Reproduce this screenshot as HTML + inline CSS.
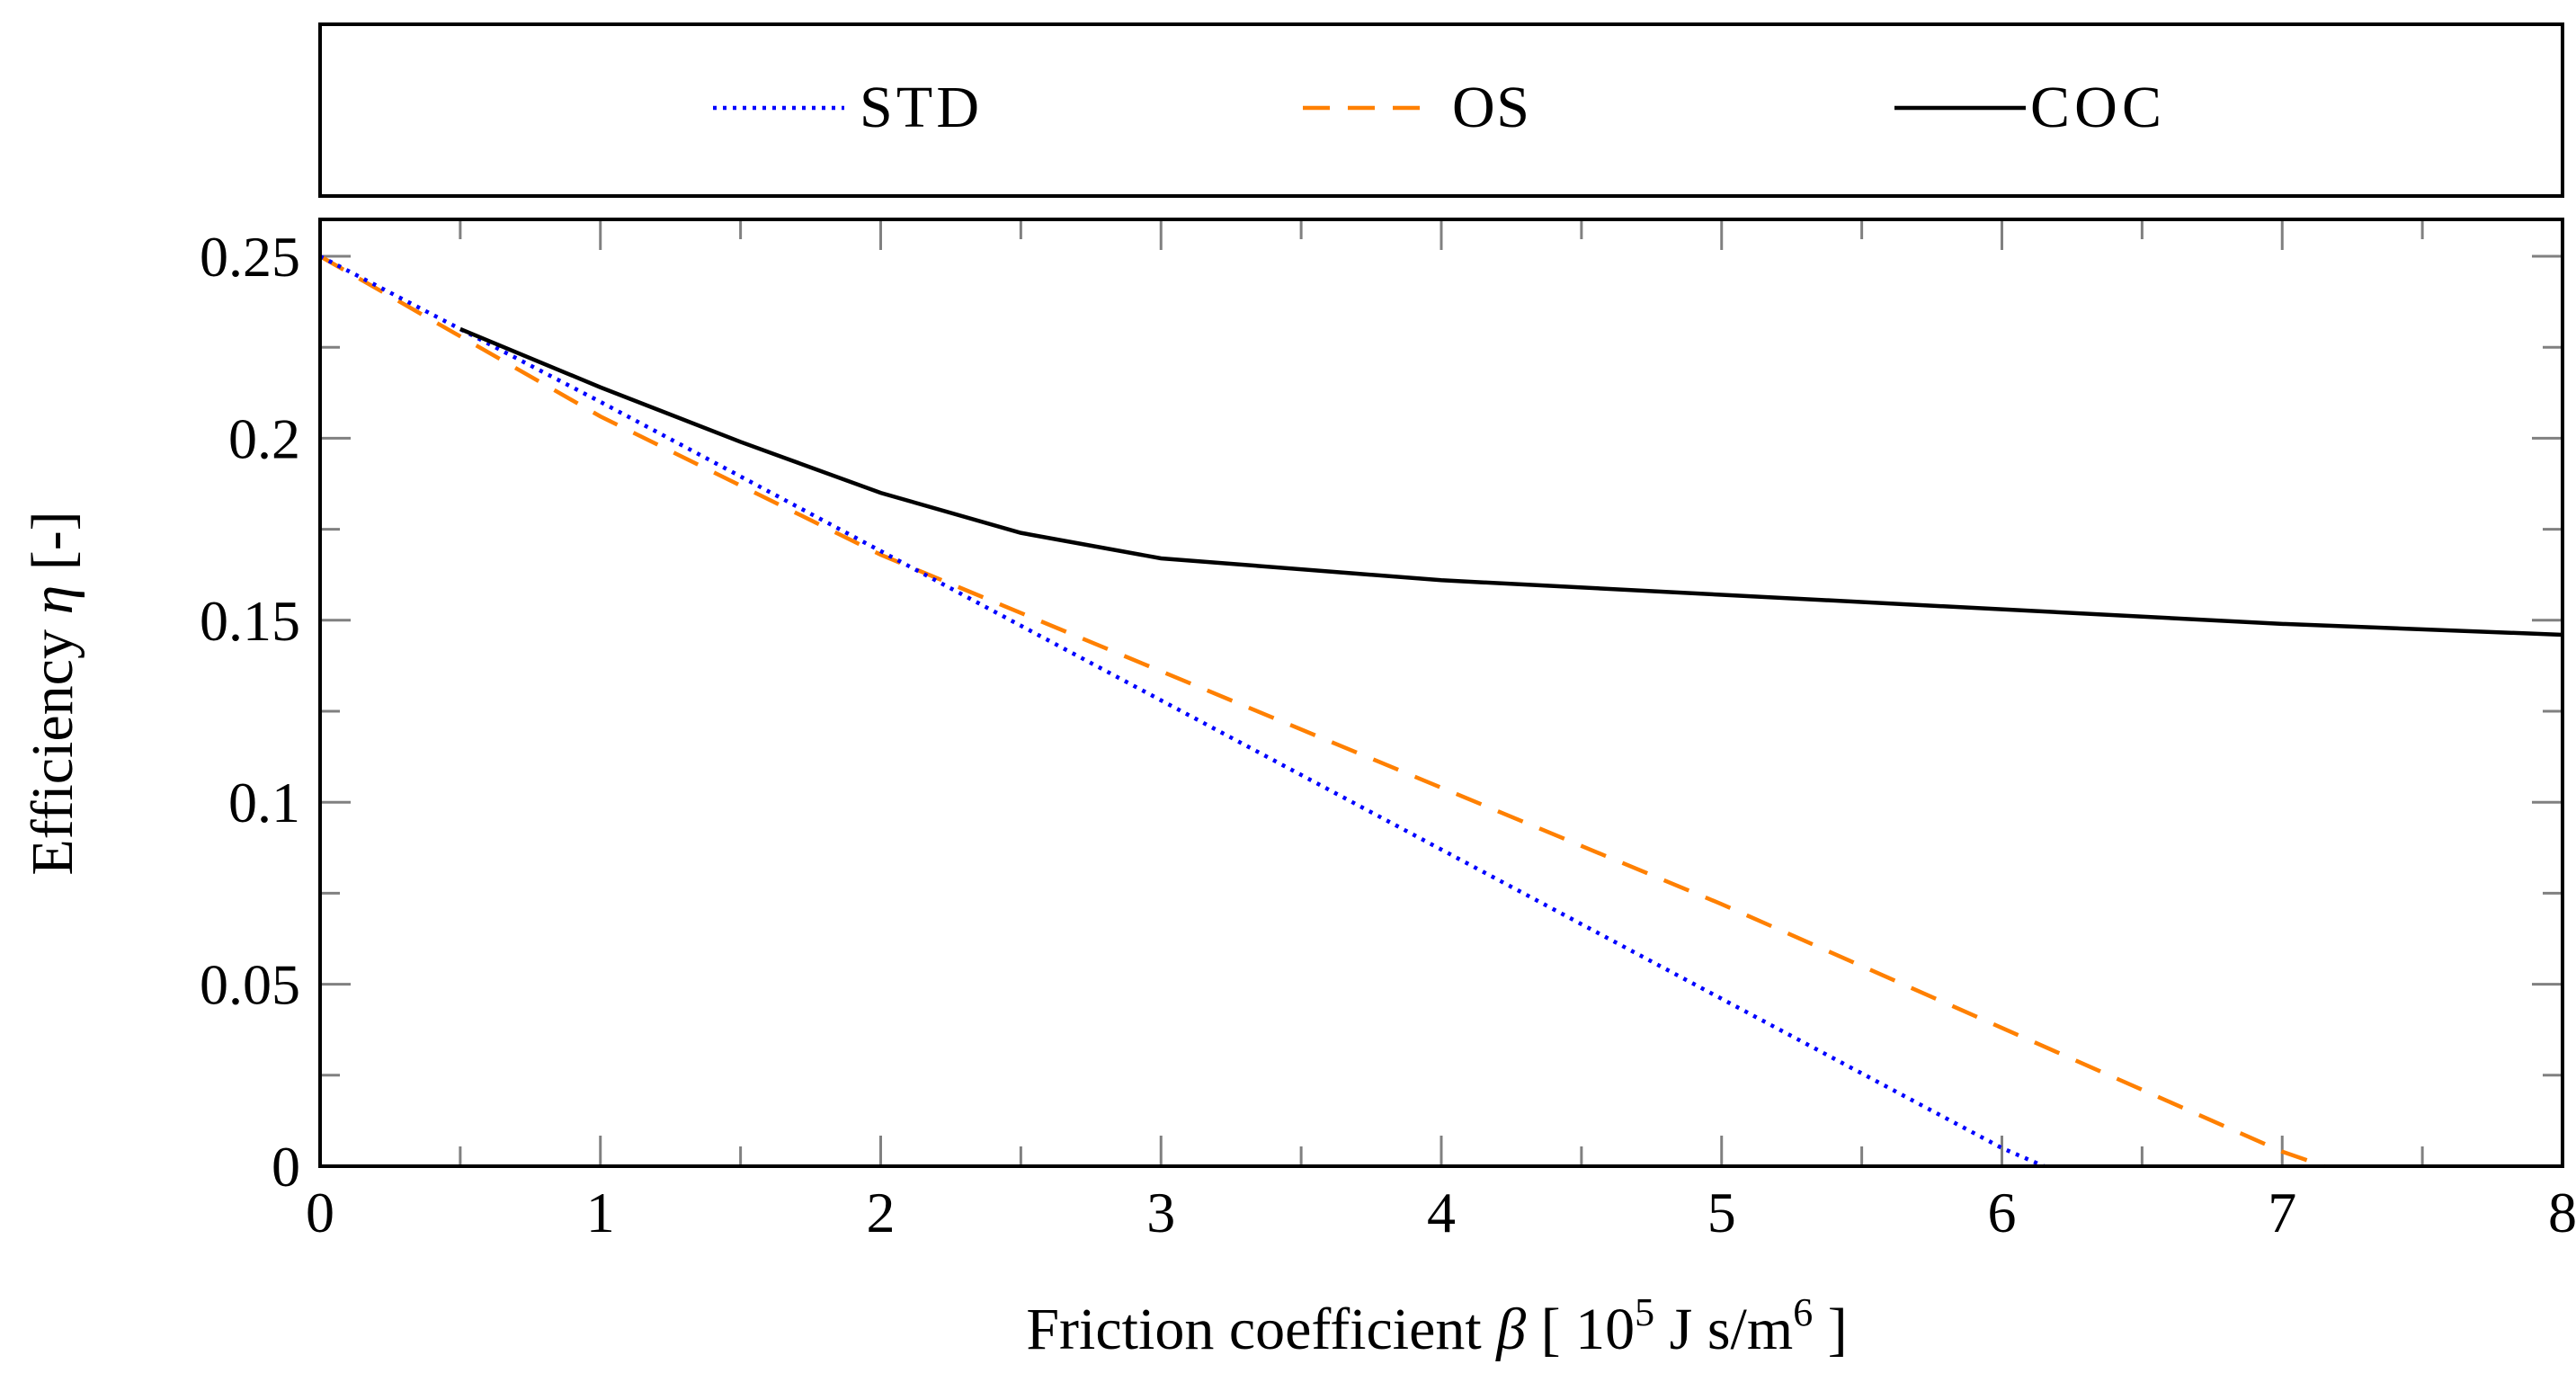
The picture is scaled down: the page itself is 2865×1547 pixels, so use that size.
<!DOCTYPE html>
<html><head><meta charset="utf-8"><style>
html,body{margin:0;padding:0;background:#fff;}
svg text{font-family:"Liberation Serif",serif;fill:#000;}
</style></head><body>
<svg id="chart" width="2865" height="1542" xmlns="http://www.w3.org/2000/svg">
<rect x="356" y="27" width="2494" height="191" fill="none" stroke="#000" stroke-width="4"/>
<g>
<line x1="793" y1="120" x2="939" y2="120" stroke="#00f" stroke-width="4.5" stroke-dasharray="4 7"/>
<text x="956" y="141" font-size="66" textLength="133">STD</text></g>
<g>
<line x1="1449" y1="120" x2="1580" y2="120" stroke="#ff8000" stroke-width="4.5" stroke-dasharray="30 20"/>
<text x="1615" y="141" font-size="66" textLength="86">OS</text></g>
<g>
<line x1="2107" y1="120" x2="2253" y2="120" stroke="#000" stroke-width="4.5"/>
<text x="2258" y="141" font-size="66" textLength="146">COC</text></g>
<g id="ticks"></g>
<g id="series"></g>
<rect x="356" y="244" width="2494" height="1053" fill="none" stroke="#000" stroke-width="4"/>
<text x="1598" y="1500" font-size="66" text-anchor="middle">Friction coefficient <tspan font-style="italic">β</tspan> [ 10<tspan font-size="44" dy="-26">5</tspan><tspan dy="26"> J s/m</tspan><tspan font-size="44" dy="-26">6</tspan><tspan dy="26"> ]</tspan></text>
<text transform="translate(80,771) rotate(-90)" font-size="66" text-anchor="middle">Efficiency <tspan font-style="italic">η</tspan> [-]</text>
</svg>
<script>
const xTicks=[0,1,2,3,4,5,6,7,8];
const yTicks=[0,0.05,0.1,0.15,0.2,0.25];
const yTickLabels=["0","0.05","0.1","0.15","0.2","0.25"];
const stdX=[0,1,2,3,4,5,6,6.15];
const stdY=[0.25,0.21,0.169,0.128,0.087,0.046,0.005,0];
const osX=[0,1,2,3,4,5,6,7,7.15];
const osY=[0.25,0.206,0.168,0.136,0.104,0.072,0.038,0.004,0];
const cocX=[0.5,1,1.5,2,2.5,3,4,5,6,7,8];
const cocY=[0.23,0.214,0.199,0.185,0.174,0.167,0.161,0.157,0.153,0.149,0.146];
const X0=356,X1=2850,Y0=1297,Y25=285;
function sx(v){return X0+(X1-X0)*v/8;}
function sy(v){return Y0-(Y0-Y25)*v/0.25;}
const NS="http://www.w3.org/2000/svg";
const tg=document.getElementById('ticks'),sg=document.getElementById('series');
function ln(g,x1,y1,x2,y2){const l=document.createElementNS(NS,'line');l.setAttribute('x1',x1);l.setAttribute('y1',y1);l.setAttribute('x2',x2);l.setAttribute('y2',y2);l.setAttribute('stroke','#808080');l.setAttribute('stroke-width','3');g.appendChild(l);return l;}
for(let i=0;i<=16;i++){const v=i/2,x=sx(v),L=(i%2==0)?34:22;
 if(i>0&&i<16){const a=ln(tg,x,Y0,x,Y0-L);
 const b=ln(tg,x,244,x,244+L);}}
for(let i=1;i<=10;i++){const v=i*0.025,y=sy(v),L=(i%2==0)?34:22;
 const a=ln(tg,X0,y,X0+L,y);
 const b=ln(tg,X1,y,X1-L,y);}
xTicks.forEach(v=>{const t=document.createElementNS(NS,'text');t.setAttribute('x',sx(v));t.setAttribute('y',1370);t.setAttribute('font-size','64');t.setAttribute('text-anchor','middle');t.textContent=String(v);


tg.appendChild(t);});
yTicks.forEach((v,i)=>{const t=document.createElementNS(NS,'text');t.setAttribute('x',334);t.setAttribute('y',sy(v)+22);t.setAttribute('font-size','64');t.setAttribute('text-anchor','end');t.textContent=yTickLabels[i];


tg.appendChild(t);});
function path(xs,ys,color,dash,name){const p=document.createElementNS(NS,'path');
 p.setAttribute('d',xs.map((x,i)=>(i?'L':'M')+sx(x)+','+sy(ys[i])).join(''));
 p.setAttribute('fill','none');p.setAttribute('stroke',color);p.setAttribute('stroke-width','4.5');if(dash)p.setAttribute('stroke-dasharray',dash);
 
 
 sg.appendChild(p);}
path(osX,osY,'#ff8000','30 20','os-line');
path(stdX,stdY,'#00f','4 7','std-line');
path(cocX,cocY,'#000',null,'coc-line');
</script>
</body></html>
